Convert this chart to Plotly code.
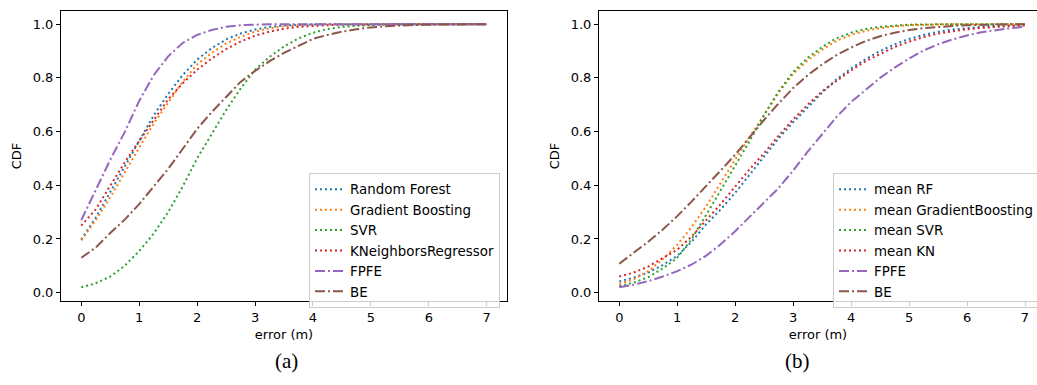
import plotly.graph_objects as go

# ---------------- data ----------------
err = [0, 0.25, 0.5, 0.75, 1, 1.25, 1.5, 1.75, 2, 2.25, 2.5, 2.75, 3, 3.25, 3.5,
       3.75, 4, 4.25, 4.5, 4.75, 5, 5.25, 5.5, 5.75, 6, 6.25, 6.5, 6.75, 7]

# panel (a)
a_rf = [0.198, 0.28, 0.375, 0.47, 0.565, 0.66, 0.74, 0.81, 0.868, 0.91, 0.943, 0.965, 0.98, 0.99, 0.995,
        0.998, 0.999, 1, 1, 1, 1, 1, 1, 1, 1, 1, 1, 1, 1]
a_gb = [0.195, 0.27, 0.355, 0.45, 0.54, 0.63, 0.71, 0.785, 0.85, 0.893, 0.928, 0.953, 0.972, 0.985, 0.992,
        0.996, 0.998, 0.999, 1, 1, 1, 1, 1, 1, 1, 1, 1, 1, 1]
a_svr = [0.02, 0.035, 0.06, 0.10, 0.155, 0.22, 0.30, 0.395, 0.50, 0.59, 0.68, 0.76, 0.83, 0.878, 0.917,
         0.947, 0.968, 0.982, 0.99, 0.994, 0.997, 0.999, 1, 1, 1, 1, 1, 1, 1]
a_kn = [0.25, 0.31, 0.398, 0.485, 0.565, 0.645, 0.72, 0.78, 0.83, 0.872, 0.907, 0.935, 0.957, 0.972, 0.983,
        0.99, 0.994, 0.996, 0.998, 0.999, 1, 1, 1, 1, 1, 1, 1, 1, 1]
a_fpfe = [0.27, 0.385, 0.495, 0.598, 0.714, 0.81, 0.88, 0.93, 0.96, 0.978, 0.99, 0.996, 0.999, 1, 1,
          1, 1, 1, 1, 1, 1, 1, 1, 1, 1, 1, 1, 1, 1]
a_be = [0.13, 0.168, 0.222, 0.272, 0.33, 0.395, 0.461, 0.535, 0.61, 0.672, 0.73, 0.785, 0.826, 0.862, 0.893,
        0.92, 0.945, 0.96, 0.972, 0.981, 0.988, 0.992, 0.995, 0.997, 0.998, 0.999, 1, 1, 1]

# panel (b)
b_rf = [0.042, 0.056, 0.075, 0.103, 0.137, 0.19, 0.255, 0.31, 0.372, 0.44, 0.508, 0.575, 0.635, 0.69, 0.745,
        0.795, 0.835, 0.87, 0.9, 0.925, 0.945, 0.96, 0.972, 0.98, 0.986, 0.99, 0.994, 0.996, 0.998]
b_gb = [0.033, 0.05, 0.08, 0.125, 0.178, 0.245, 0.322, 0.41, 0.496, 0.58, 0.663, 0.745, 0.815, 0.865, 0.905,
        0.938, 0.96, 0.975, 0.985, 0.992, 0.996, 0.998, 0.999, 1, 1, 1, 1, 1, 1]
b_svr = [0.025, 0.037, 0.058, 0.09, 0.13, 0.2, 0.29, 0.38, 0.471, 0.565, 0.663, 0.75, 0.822, 0.875, 0.915,
         0.948, 0.968, 0.982, 0.99, 0.995, 0.998, 0.999, 1, 1, 1, 1, 1, 1, 1]
b_kn = [0.06, 0.075, 0.097, 0.128, 0.16, 0.21, 0.268, 0.33, 0.395, 0.46, 0.52, 0.585, 0.645, 0.70, 0.75,
        0.79, 0.828, 0.862, 0.89, 0.915, 0.935, 0.952, 0.965, 0.974, 0.981, 0.986, 0.99, 0.993, 0.995]
b_fpfe = [0.02, 0.03, 0.043, 0.06, 0.08, 0.105, 0.138, 0.18, 0.229, 0.282, 0.335, 0.39, 0.455, 0.525, 0.59,
          0.655, 0.71, 0.756, 0.80, 0.838, 0.872, 0.902, 0.925, 0.943, 0.958, 0.97, 0.978, 0.985, 0.99]
b_be = [0.108, 0.148, 0.19, 0.235, 0.285, 0.34, 0.396, 0.455, 0.514, 0.58, 0.644, 0.705, 0.762, 0.81, 0.85,
        0.885, 0.913, 0.937, 0.955, 0.968, 0.978, 0.985, 0.99, 0.993, 0.996, 0.998, 0.999, 1, 1]

names_a = ["Random Forest", "Gradient Boosting", "SVR", "KNeighborsRegressor", "FPFE", "BE"]
names_b = ["mean RF", "mean GradientBoosting", "mean SVR", "mean KN", "FPFE", "BE"]
series_a = [a_rf, a_gb, a_svr, a_kn, a_fpfe, a_be]
series_b = [b_rf, b_gb, b_svr, b_kn, b_fpfe, b_be]
colors = ["#1f77b4", "#ff7f0e", "#2ca02c", "#d62728", "#9467bd", "#8c564b"]
dashes = ["2px,3px", "2px,3px", "2px,3px", "2px,3px", "10px,3px,2px,3px", "10px,3px,2px,3px"]
xticks = [0, 1, 2, 3, 4, 5, 6, 7]
yticks = [0.0, 0.2, 0.4, 0.6, 0.8, 1.0]
ytick_text = ["0.0", "0.2", "0.4", "0.6", "0.8", "1.0"]

# ---------------- figure ----------------
W, H = 1037, 385
FONT = "DejaVu Sans"
fig = go.Figure()

for name, ys, c, d in zip(names_a, series_a, colors, dashes):
    fig.add_trace(go.Scatter(x=err, y=ys, name=name, mode="lines",
                             line=dict(color=c, width=2, dash=d),
                             xaxis="x", yaxis="y", legend="legend"))
for name, ys, c, d in zip(names_b, series_b, colors, dashes):
    fig.add_trace(go.Scatter(x=err, y=ys, name=name, mode="lines",
                             line=dict(color=c, width=2, dash=d),
                             xaxis="x2", yaxis="y2", legend="legend2"))

def px_x(p):
    return p / W

def px_y(p):
    return 1 - p / H

ydom = [px_y(301), px_y(11)]
axis_common = dict(showline=True, linecolor="black", linewidth=1, ticks="outside",
                   ticklen=4, tickwidth=1, tickcolor="black", showgrid=False, zeroline=False,
                   automargin=False,
                   tickfont=dict(family=FONT, size=13, color="black"))

legend_common = dict(xanchor="left", yanchor="top",
                     bgcolor="rgba(255,255,255,0.8)", bordercolor="#cccccc", borderwidth=1,
                     font=dict(family=FONT, size=13.4, color="black"), itemwidth=30,
                     tracegroupgap=0)

fig.update_layout(
    width=W, height=H,
    margin=dict(l=0, r=0, t=0, b=0, autoexpand=False),
    paper_bgcolor="white", plot_bgcolor="white",
    font=dict(family=FONT, size=13, color="black"),
    xaxis=dict(domain=[px_x(61), px_x(507)], range=[-0.35, 7.35], tickvals=xticks,
               mirror=True, anchor="y",
               title=dict(text="error (m)", font=dict(family=FONT, size=13), standoff=6),
               **axis_common),
    yaxis=dict(domain=ydom, range=[-0.031, 1.049], tickvals=yticks, ticktext=ytick_text,
               mirror=True, anchor="x",
               title=dict(text="CDF", font=dict(family=FONT, size=13), standoff=8),
               **axis_common),
    xaxis2=dict(domain=[px_x(599), 1.0], range=[-0.35, 7.207], tickvals=xticks,
                mirror=True, anchor="y2",
                title=dict(text="error (m)", font=dict(family=FONT, size=13), standoff=6),
                **axis_common),
    yaxis2=dict(domain=ydom, range=[-0.031, 1.049], tickvals=yticks, ticktext=ytick_text,
                mirror=False, anchor="x2",
                title=dict(text="CDF", font=dict(family=FONT, size=13), standoff=8),
                **axis_common),
    legend=dict(x=px_x(309), y=px_y(173), **legend_common),
    legend2=dict(x=px_x(833), y=px_y(173), **legend_common),
    showlegend=True,
    annotations=[
        dict(text="(a)", x=px_x(273), y=px_y(375), xref="paper", yref="paper",
             showarrow=False, font=dict(family="Liberation Serif", size=21, color="black")),
        dict(text="(b)", x=px_x(812), y=px_y(375), xref="paper", yref="paper",
             showarrow=False, font=dict(family="Liberation Serif", size=21, color="black")),
    ],
)

fig.write_html("out.html", config={"displayModeBar": False},
               post_script="document.body.style.margin='0';document.body.style.overflow='hidden';")
